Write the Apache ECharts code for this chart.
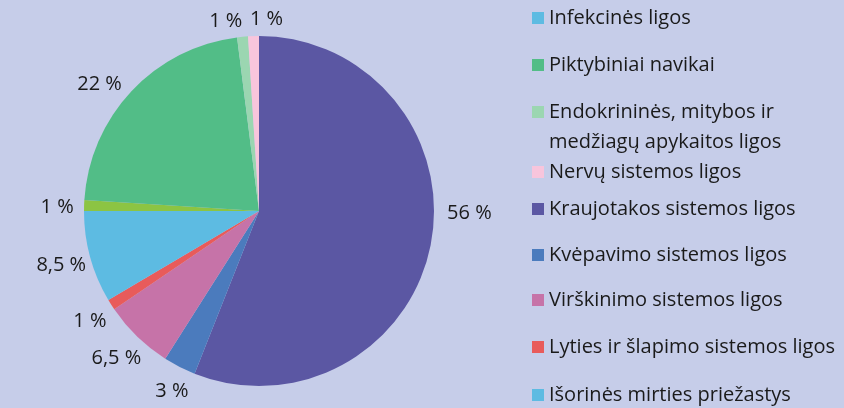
<!DOCTYPE html>
<html>
<head>
<meta charset="utf-8">
<script src="https://cdn.jsdelivr.net/npm/echarts@6/dist/echarts.min.js"></script>
<style>
  html, body { margin: 0; padding: 0; background: #c6cde9; }
  #chart { width: 844px; height: 408px; }
</style>
</head>
<body>
<div id="chart"></div>
<script>
// slices, clockwise from 12 o'clock
const categories = [
  'Kraujotakos sistemos ligos',
  'Kvėpavimo sistemos ligos',
  'Virškinimo sistemos ligos',
  'Lyties ir šlapimo sistemos ligos',
  'Išorinės mirties priežastys',
  'Infekcinės ligos',
  'Piktybiniai navikai',
  'Endokrininės, mitybos ir\nmedžiagų apykaitos ligos',
  'Nervų sistemos ligos'
]
const shares = [56, 3, 6.5, 1, 8.5, 1, 22, 1, 1]
const sliceColors = ['#5b57a3', '#4b7bbd', '#c673a8', '#e85b5b', '#5dbbe2', '#8cc443', '#52bd87', '#9bd6b1', '#f8c5dc']

// legend order (top to bottom) and its swatch colours
const legendNames = [
  'Infekcinės ligos',
  'Piktybiniai navikai',
  'Endokrininės, mitybos ir\nmedžiagų apykaitos ligos',
  'Nervų sistemos ligos',
  'Kraujotakos sistemos ligos',
  'Kvėpavimo sistemos ligos',
  'Virškinimo sistemos ligos',
  'Lyties ir šlapimo sistemos ligos',
  'Išorinės mirties priežastys'
]
const legendColors = ['#5dbbe2', '#52bd87', '#9bd6b1', '#f8c5dc', '#5b57a3', '#4b7bbd', '#c673a8', '#e85b5b', '#5dbbe2']
const legendY = [18, 65, 112, 172, 209, 255, 300, 347, 395] // swatch centres

// hand-placed label nudges (as in the original)
const labelNudge = {
  'Kraujotakos sistemos ligos': [9, -36],
  'Kvėpavimo sistemos ligos': [6, -2],
  'Lyties ir šlapimo sistemos ligos': [4, 0],
  'Infekcinės ligos': [3, 3],
  'Piktybiniai navikai': [-10, 14],
  'Endokrininės, mitybos ir\nmedžiagų apykaitos ligos': [-14, 14],
  'Nervų sistemos ligos': [14, 13]
}

const font = 'Open Sans'
const chart = echarts.init(document.getElementById('chart'))

const legends = legendNames.map((name, i) => {
  const twoLine = name.indexOf('\n') >= 0
  return {
    orient: 'vertical',
    left: 532,
    top: twoLine ? legendY[i] - 45 : legendY[i] - 10,
    padding: 0,
    itemWidth: 12,
    itemHeight: 12,
    itemGap: 0,
    selectedMode: false,
    data: [{ name: name, icon: 'rect', itemStyle: { color: legendColors[i] } }],
    formatter: n => (twoLine ? '\n' + n : n),
    textStyle: {
      fontFamily: font,
      fontSize: 20,
      color: '#1a1a1a',
      lineHeight: twoLine ? 30 : 20
    }
  }
})

chart.setOption({
  backgroundColor: '#c6cde9',
  animation: false,
  legend: legends,
  series: [
    {
      type: 'pie',
      center: [259, 211],
      radius: 175,
      startAngle: 90,
      clockwise: true,
      data: categories.map((c, i) => ({ name: c, value: shares[i], itemStyle: { color: sliceColors[i] } })),
      itemStyle: { borderWidth: 0 },
      label: { show: false },
      labelLine: { show: false },
      emphasis: { disabled: true }
    },
    // invisible ring that carries the percentage labels, centred outside the pie
    {
      type: 'pie',
      center: [259, 211],
      radius: [190, 214],
      startAngle: 90,
      clockwise: true,
      silent: true,
      data: categories.map((c, i) => ({
        name: c,
        value: shares[i],
        itemStyle: { color: 'rgba(0,0,0,0)' },
        label: labelNudge[c] ? { offset: labelNudge[c] } : undefined
      })),
      label: {
        show: true,
        position: 'inside',
        fontFamily: font,
        fontSize: 20,
        color: '#1a1a1a',
        formatter: p => String(p.value).replace('.', ',') + ' %'
      },
      labelLine: { show: false },
      labelLayout: { hideOverlap: false },
      emphasis: { disabled: true }
    }
  ]
})
</script>
</body>
</html>
